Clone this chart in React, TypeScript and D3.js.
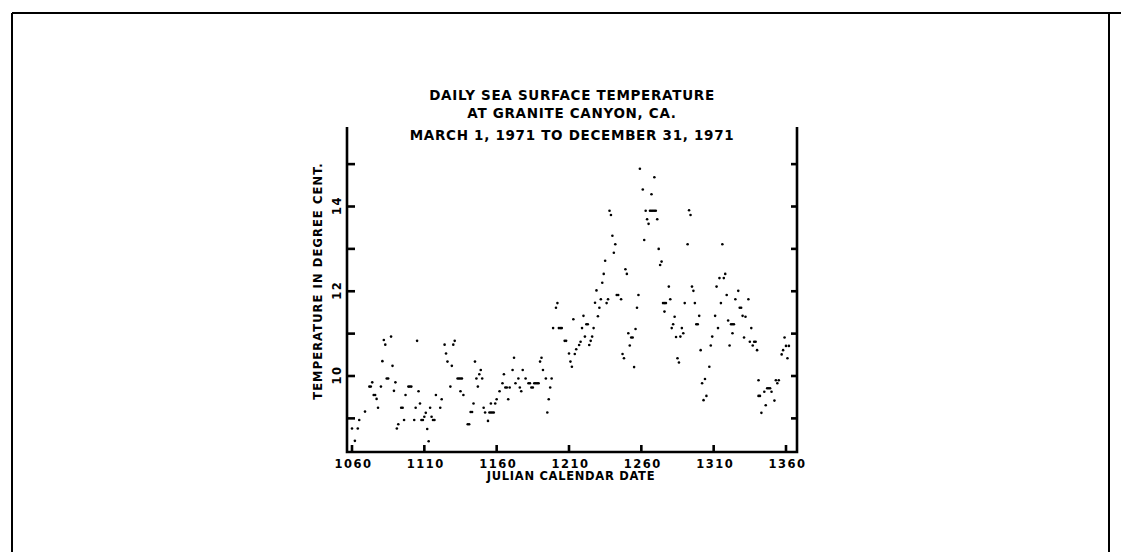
import React, { useEffect, useRef } from 'react';
import * as d3 from 'd3';

// Title / labels
const titleLines = [
  'DAILY SEA SURFACE TEMPERATURE',
  'AT GRANITE CANYON, CA.',
  'MARCH 1, 1971 TO DECEMBER 31, 1971',
];
const xLabel = 'JULIAN CALENDAR DATE';
const yLabel = 'TEMPERATURE IN DEGREE CENT.';

// Axis ticks
const xTicks = [1060, 1110, 1160, 1210, 1260, 1310, 1360];
const yTicks = [9, 10, 11, 12, 13, 14, 15];
const yTickLabels = [10, 12, 14];

// Daily readings (julian day, deg C)
const days = [
  1060, 1062, 1064, 1065, 1069, 1072, 1073, 1074, 1075, 1076, 1077, 1078, 1080, 1081, 1082, 1083, 1084, 1085,
  1087, 1088, 1089, 1090, 1091, 1092, 1094, 1095, 1096, 1097, 1099, 1100, 1101, 1103, 1104, 1105, 1106, 1107,
  1108, 1109, 1110, 1111, 1112, 1113, 1114, 1115, 1116, 1117, 1118, 1121, 1122, 1124, 1125, 1126, 1128, 1129,
  1130, 1131, 1133, 1134, 1135, 1136, 1135, 1137, 1140, 1141, 1142, 1143, 1144, 1145, 1146, 1147, 1148, 1149,
  1150, 1151, 1152, 1154, 1155, 1156, 1157, 1158, 1156, 1159, 1160, 1162, 1164, 1165, 1166, 1167, 1168, 1169,
  1171, 1172, 1173, 1175, 1176, 1177, 1178, 1180, 1182, 1183, 1184, 1185, 1186, 1187, 1188, 1189, 1190, 1191,
  1192, 1194, 1195, 1196, 1197, 1198, 1199, 1201, 1202, 1203, 1204, 1205, 1207, 1208, 1210, 1211, 1212, 1213,
  1214, 1215, 1217, 1218, 1219, 1220, 1221, 1222, 1223, 1224, 1225, 1226, 1227, 1228, 1229, 1230, 1231, 1232,
  1233, 1234, 1235, 1236, 1237, 1238, 1239, 1240, 1241, 1242, 1243, 1244, 1246, 1247, 1248, 1249, 1250, 1251,
  1252, 1253, 1254, 1255, 1256, 1257, 1258, 1259, 1261, 1262, 1263, 1264, 1265, 1266, 1267, 1267, 1268, 1269,
  1270, 1269, 1271, 1272, 1273, 1274, 1275, 1276, 1277, 1276, 1279, 1280, 1281, 1282, 1283, 1284, 1285, 1286,
  1287, 1288, 1289, 1290, 1292, 1293, 1294, 1295, 1296, 1297, 1298, 1299, 1300, 1301, 1302, 1303, 1304, 1305,
  1307, 1308, 1309, 1311, 1312, 1313, 1314, 1315, 1316, 1317, 1318, 1319, 1320, 1321, 1322, 1323, 1324, 1323,
  1325, 1327, 1328, 1329, 1330, 1331, 1332, 1334, 1335, 1336, 1337, 1338, 1339, 1340, 1341, 1341, 1342, 1343,
  1345, 1346, 1347, 1348, 1349, 1350, 1352, 1353, 1354, 1355, 1357, 1358, 1359, 1360, 1361, 1362,
];
const temps = [
  8.76, 8.47, 8.76, 8.96, 9.16, 9.75, 9.75, 9.85, 9.55, 9.55, 9.46, 9.25, 9.75, 10.35, 10.85, 10.74, 9.94, 9.94,
  10.93, 10.24, 9.65, 9.85, 8.76, 8.86, 9.25, 9.25, 8.96, 9.55, 9.75, 9.75, 9.75, 8.96, 9.25, 10.83, 9.64, 9.35,
  8.96, 8.96, 9.04, 9.13, 8.75, 8.46, 9.25, 9.04, 8.96, 8.96, 9.55, 9.25, 9.45, 10.74, 10.53, 10.34, 9.75, 10.24,
  10.74, 10.83, 9.94, 9.94, 9.94, 9.94, 9.64, 9.55, 8.86, 8.86, 9.15, 9.15, 9.35, 10.34, 9.94, 9.75, 10.04, 10.14,
  9.94, 9.25, 9.14, 8.94, 9.14, 9.14, 9.14, 9.14, 9.35, 9.35, 9.45, 9.64, 9.83, 10.04, 9.73, 9.73, 9.45, 9.73,
  10.14, 10.43, 9.83, 9.94, 9.73, 9.64, 10.14, 9.94, 9.83, 9.83, 9.73, 9.73, 9.83, 9.83, 9.83, 9.83, 10.34, 10.43,
  10.14, 9.94, 9.14, 9.45, 9.73, 9.94, 11.13, 11.61, 11.72, 11.13, 11.13, 11.13, 10.83, 10.83, 10.53, 10.34, 10.22, 11.34,
  10.52, 10.63, 10.73, 10.81, 11.13, 11.42, 10.93, 11.22, 11.22, 10.73, 10.83, 10.93, 11.13, 11.73, 12.02, 11.41, 11.61, 11.81,
  12.2, 12.41, 12.72, 11.72, 11.81, 13.9, 13.8, 13.31, 12.91, 13.11, 11.91, 11.91, 11.81, 10.52, 10.42, 12.52, 12.41, 11.01,
  10.72, 10.91, 10.91, 10.21, 11.11, 11.61, 11.91, 14.89, 14.4, 13.21, 13.9, 13.7, 13.59, 13.9, 14.29, 13.9, 13.9, 13.9,
  13.9, 14.69, 13.7, 13.0, 12.62, 12.7, 11.72, 11.72, 11.72, 11.52, 12.11, 11.81, 11.13, 11.22, 11.4, 10.92, 10.42, 10.32,
  10.93, 11.13, 11.01, 11.72, 13.11, 13.91, 13.8, 12.11, 12.01, 11.72, 11.22, 11.22, 11.42, 10.61, 9.83, 9.43, 9.93, 9.53,
  10.22, 10.72, 10.93, 11.42, 12.11, 11.13, 12.31, 11.72, 13.11, 12.31, 12.41, 11.91, 11.31, 10.72, 11.22, 11.22, 11.22, 11.01,
  11.81, 12.01, 11.61, 11.61, 11.42, 10.91, 11.4, 11.81, 10.81, 11.13, 10.72, 10.81, 10.81, 10.61, 9.9, 9.53, 9.53, 9.13,
  9.63, 9.31, 9.71, 9.71, 9.71, 9.63, 9.42, 9.9, 9.83, 9.9, 10.51, 10.61, 10.91, 10.71, 10.42, 10.71,
];

const W = 1121;
const H = 552;
const FONT = '"DejaVu Sans", sans-serif';

const App: React.FC = () => {
  const svgRef = useRef<SVGSVGElement>(null);

  useEffect(() => {
    if (!svgRef.current) return;
    const svg = d3.select(svgRef.current);
    svg.selectAll('*').remove();

    // plot frame (left/right axis and bottom)
    const left = 347, right = 797, top = 127, bottom = 452;

    const x = d3.scaleLinear().domain([1060, 1360]).range([352, 786]);
    const y = d3.scaleLinear().domain([10, 14]).range([376, 206.5]);

    // plotter lettering: narrow-ish glyphs, spread out
    const label = (sel: any, size: number, ls: number) =>
      sel
        .style('font-family', FONT)
        .style('font-weight', 'bold')
        .style('font-size', `${size}px`)
        .style('letter-spacing', `${ls}px`);

    // page border from the scan
    const page = svg.append('g').attr('stroke', '#000').attr('stroke-width', 2);
    page.append('line').attr('x1', 12).attr('x2', W).attr('y1', 13).attr('y2', 13);
    page.append('line').attr('x1', 12).attr('x2', 12).attr('y1', 13).attr('y2', H);
    page.append('line').attr('x1', 1109).attr('x2', 1109).attr('y1', 13).attr('y2', H);

    // title
    label(
      svg.append('g')
        .selectAll('text')
        .data(titleLines)
        .enter()
        .append('text')
        .attr('x', 572)
        .attr('y', (d, i) => [100, 118, 140][i])
        .attr('text-anchor', 'middle'),
      13.5, 0.7
    ).text((d: string) => d);

    // axes
    const axes = svg.append('g').attr('stroke', '#000').attr('stroke-width', 2.6).attr('fill', 'none');
    axes.append('path').attr('d', `M${left},${top}V${bottom}H${right}V${top}`);

    // y ticks, both sides pointing in
    axes.selectAll('.ytl')
      .data(yTicks)
      .enter()
      .append('line')
      .attr('x1', left).attr('x2', left + 8)
      .attr('y1', d => y(d)).attr('y2', d => y(d));
    axes.selectAll('.ytr')
      .data(yTicks)
      .enter()
      .append('line')
      .attr('x1', right).attr('x2', right - 6)
      .attr('y1', d => y(d)).attr('y2', d => y(d));

    // x ticks pointing up
    axes.selectAll('.xt')
      .data(xTicks)
      .enter()
      .append('line')
      .attr('x1', d => x(d)).attr('x2', d => x(d))
      .attr('y1', bottom).attr('y2', bottom - 7);

    // tick labels
    label(
      svg.append('g')
        .selectAll('text')
        .data(xTicks)
        .enter()
        .append('text')
        .attr('x', d => x(d) + 1.5)
        .attr('y', 468)
        .attr('text-anchor', 'middle'),
      11.5, 1.5
    ).text((d: number) => d);

    label(
      svg.append('g')
        .selectAll('text')
        .data(yTickLabels)
        .enter()
        .append('text')
        .attr('transform', d => `translate(341,${y(d) - 1}) rotate(-90)`)
        .attr('text-anchor', 'middle'),
      11.5, 1.5
    ).text((d: number) => d);

    // axis titles
    label(
      svg.append('text')
        .attr('x', 571)
        .attr('y', 480)
        .attr('text-anchor', 'middle'),
      11.5, 0.7
    ).text(xLabel);

    label(
      svg.append('text')
        .attr('transform', 'translate(322,281) rotate(-90)')
        .attr('text-anchor', 'middle'),
      11.5, 1.1
    ).text(yLabel);

    // daily points
    const pts = d3.range(days.length).map(i => ({ day: days[i], t: temps[i] }));
    svg.append('g')
      .selectAll('circle')
      .data(pts)
      .enter()
      .append('circle')
      .attr('cx', d => x(d.day))
      .attr('cy', d => y(d.t))
      .attr('r', 1.3)
      .attr('fill', '#000');
  }, []);

  return (
    <svg
      ref={svgRef}
      width={W}
      height={H}
      style={{ position: 'absolute', left: 0, top: 0, background: '#fff' }}
    />
  );
};

export default App;
